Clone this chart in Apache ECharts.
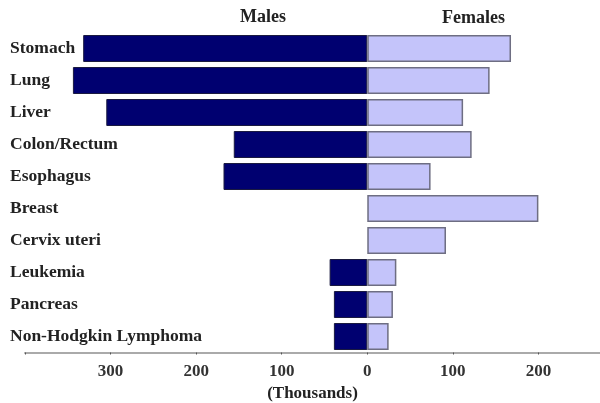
<!DOCTYPE html>
<html>
<head>
<meta charset="utf-8">
<script src="https://cdn.jsdelivr.net/npm/echarts@6/dist/echarts.min.js"></script>
<style>html,body{margin:0;padding:0;background:#fff}#c{width:600px;height:403px}</style>
</head>
<body>
<div id="c"></div>
<script>
const categories = ["Stomach","Lung","Liver","Colon/Rectum","Esophagus","Breast","Cervix uteri","Leukemia","Pancreas","Non-Hodgkin Lymphoma"];
const males = [332, 344, 305, 156, 168, null, null, 44, 39, 39];
const females = [168, 143, 112, 122, 74, 200, 92, 34, 30, 25];
const seriesNames = ["Males", "Females"];
const axisTitle = "(Thousands)";

const chart = echarts.init(document.getElementById('c'), null, {renderer: 'canvas'});
const serif = '"Liberation Serif", "Times New Roman", serif';
chart.setOption({
  animation: false,
  grid: {left: 25, right: 0, top: 32.5, bottom: 50.5, containLabel: false, outerBoundsMode: 'none'},
  graphic: [
    {type: 'text', left: 240, top: 8, style: {text: seriesNames[0], font: 'bold 18px ' + serif, fill: '#222'}},
    {type: 'text', left: 442, top: 9, style: {text: seriesNames[1], font: 'bold 18px ' + serif, fill: '#222'}}
  ],
  xAxis: {
    type: 'value', min: -400, max: 272, interval: 100,
    name: axisTitle, nameLocation: 'middle', nameGap: 28,
    nameTextStyle: {fontFamily: serif, fontSize: 17, fontWeight: 'bold', color: '#222'},
    axisLine: {show: true, lineStyle: {color: '#aaa', width: 2}},
    axisTick: {show: true, length: 2, lineStyle: {color: '#555'}},
    splitLine: {show: false},
    axisLabel: {
      fontFamily: serif, fontSize: 17, fontWeight: 'bold', color: '#333', margin: 11,
      showMaxLabel: false,
      formatter: v => (v <= -400 || v > 250) ? '' : String(Math.abs(v))
    }
  },
  yAxis: {
    type: 'category', data: categories, inverse: true,
    axisLine: {show: false}, axisTick: {show: false}, splitLine: {show: false},
    axisLabel: {align: 'left', margin: 15, padding: [6, 0, 0, 0], fontFamily: serif, fontSize: 17.5, fontWeight: 'bold', color: '#222'}
  },
  series: [
    {name: seriesNames[0], type: 'bar', barWidth: 27, barGap: '-100%',
     data: males.map(v => v == null ? null : -v),
     itemStyle: {color: '#000070', borderColor: '#1a1a40', borderWidth: 1}},
    {name: seriesNames[1], type: 'bar', barWidth: 27,
     data: females,
     itemStyle: {color: '#c4c4fa', borderColor: '#6e6e82', borderWidth: 1.5}}
  ]
});
</script>
</body>
</html>
